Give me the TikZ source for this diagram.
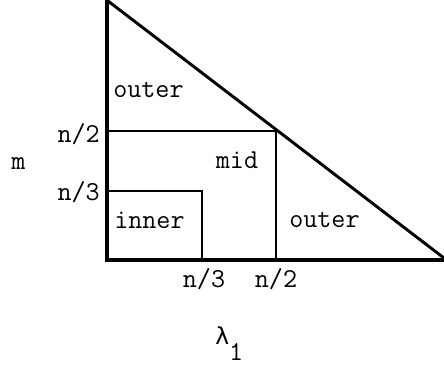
\documentclass[tikz,border=0pt]{standalone}
\usepackage{fontspec}
\newfontfamily\lamfont{DejaVu Sans}
\begin{document}
\begin{tikzpicture}[x=0.75pt,y=-0.75pt,
  lbl/.style={inner sep=0pt,font=\ttfamily\fontsize{20.5}{22}\selectfont},
  axis/.style={line width=3.6pt},
  baseaxis/.style={line width=3pt},
  hyp/.style={line width=2.2pt},
  thin/.style={line width=1.2pt}]
\useasboundingbox (0,0) rectangle (444,369);
% corners
\coordinate (top) at (107,0);
\coordinate (origin) at (107,260);
\coordinate (right) at (444,258);
\coordinate (apex) at (108,1);
\coordinate (leftend) at (105,260);
\coordinate (baseend) at (444,260);
\coordinate (half) at (276,131);
\coordinate (halfL) at (107,131);
\coordinate (halfB) at (276,260);
\coordinate (third) at (202,191);
\coordinate (thirdL) at (107,191);
\coordinate (thirdB) at (202,260);
% region lines
\draw[thin] (halfL) -- (half) -- (halfB);
\draw[thin] (thirdL) -- (third) -- (thirdB);
% triangle
\draw[hyp] (apex) -- (right);
\draw[baseaxis] (leftend) -- (baseend);
\draw[axis] (top) -- ([yshift=-1.5pt]origin);
% labels
\node[lbl,anchor=base west] (outerTop) at (113,97) {outer};
\node[lbl,anchor=base] (mid) at (237,168) {mid};
\node[lbl,anchor=base west] (inner) at (114,228) {inner};
\node[lbl,anchor=base west] (outerR) at (289,227) {outer};
\node[lbl,anchor=base east] (yhalf) at (100,142) {n/2};
\node[lbl,anchor=base east] (ythird) at (100,200) {n/3};
\node[lbl,anchor=base] (xthird) at (204,287) {n/3};
\node[lbl,anchor=base] (xhalf) at (276,287) {n/2};
\node[lbl,anchor=base] (m) at (18.5,169) {m};
\node[lbl,anchor=base west] (lambda) at (215,344) {{\lamfont\fontsize{17.5}{20}\selectfont λ}\raisebox{-12pt}{1}};
\end{tikzpicture}
\end{document}
